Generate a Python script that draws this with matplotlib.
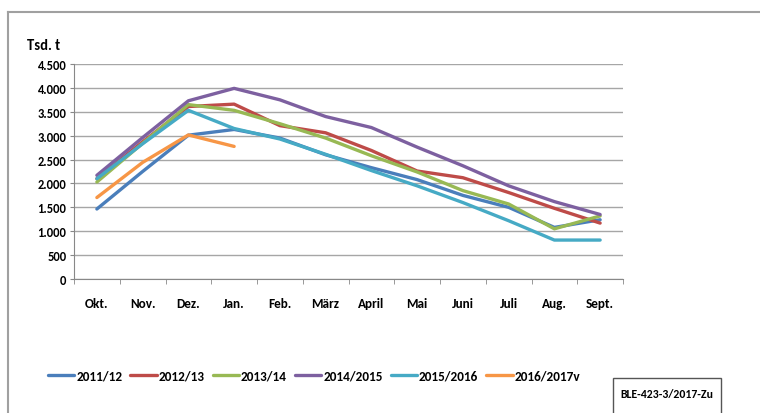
import matplotlib.pyplot as plt
from matplotlib.lines import Line2D
from matplotlib.patches import Rectangle
from matplotlib.ticker import FuncFormatter, FixedLocator

plt.rcParams['font.family'] = ['Carlito', 'DejaVu Sans']
plt.rcParams['font.weight'] = 'bold'

months = ["Okt.", "Nov.", "Dez.", "Jan.", "Feb.", "März", "April", "Mai", "Juni", "Juli", "Aug.", "Sept."]

s2011 = [1465, 2250, 3010, 3130, 2950, 2600, 2330, 2080, 1750, 1500, 1080, 1240]
s2012 = [2100, 2870, 3610, 3660, 3210, 3060, 2690, 2260, 2120, 1810, 1480, 1170]
s2013 = [2030, 2840, 3650, 3530, 3250, 2950, 2580, 2240, 1850, 1570, 1050, 1320]
s2014 = [2170, 2960, 3730, 3990, 3750, 3400, 3170, 2760, 2370, 1950, 1620, 1350]
s2015 = [2100, 2830, 3530, 3150, 2930, 2610, 2270, 1950, 1600, 1220, 815, 815]
s2016 = [1705, 2440, 3015, 2775]

series = [
    ("2011/12", s2011, "#4A7EBB"),
    ("2012/13", s2012, "#BE4B48"),
    ("2013/14", s2013, "#98B954"),
    ("2014/2015", s2014, "#7D60A0"),
    ("2015/2016", s2015, "#46AAC5"),
    ("2016/2017v", s2016, "#F79646"),
]

fig = plt.figure(figsize=(7.6, 4.14), dpi=100)
ax = fig.add_axes([74 / 760, 1 - 280 / 414, 549 / 760, 215 / 414])

for name, vals, col in series:
    ax.plot(range(len(vals)), vals, color=col, lw=2.4, label=name, solid_capstyle="round")

ax.set_xlim(-0.5, 11.5)
ax.set_ylim(0, 4500)
ax.set_yticks(range(0, 4501, 500))
ax.yaxis.set_major_formatter(FuncFormatter(lambda v, p: f"{int(v):,}".replace(",", ".")))
ax.set_xticks(range(12))
ax.set_xticklabels(months)
ax.xaxis.set_minor_locator(FixedLocator([k + 0.5 for k in range(-1, 12)]))
ax.tick_params(axis="x", which="major", length=0, pad=13, labelsize=9.5)
ax.tick_params(axis="x", which="minor", length=3.5, color="#888888", direction="out")
ax.tick_params(axis="y", length=3, color="#888888", labelsize=9, pad=2.5)
for lab in ax.get_xticklabels() + ax.get_yticklabels():
    lab.set_fontweight("bold")

ax.grid(axis="y", color="#a6a6a6", lw=1)
ax.set_axisbelow(True)
for side in ["top", "right"]:
    ax.spines[side].set_visible(False)
ax.spines["left"].set_color("#888888")
ax.spines["bottom"].set_color("#888888")

fig.text(27 / 760, 1 - 46 / 414, "Tsd. t", fontsize=10.5, fontweight="bold", va="center")

# outer chart border
fig.add_artist(Line2D([8 / 760, 8 / 760], [0, 1 - 13 / 414], color="#a0a0a0", lw=1.5))
fig.add_artist(Line2D([8 / 760, 1], [1 - 13 / 414, 1 - 13 / 414], color="#a0a0a0", lw=1.5))

leg = fig.legend(loc="center left", bbox_to_anchor=(48 / 760, 1 - 377 / 414), ncol=6,
                 frameon=False, handlelength=2.0, handletextpad=0.15, columnspacing=0.6,
                 fontsize=9.5, borderaxespad=0, borderpad=0)
for t in leg.get_texts():
    t.set_fontweight("bold")

fig.add_artist(Rectangle((613 / 760, -0.01), 108 / 760, (414 - 379) / 414 + 0.01,
                         fill=False, ec="#555555", lw=1))
fig.text(667 / 760, 1 - 395 / 414, "BLE-423-3/2017-Zu", fontsize=8.5, fontweight="bold",
         ha="center", va="center")

fig.savefig("out.png", dpi=100)
